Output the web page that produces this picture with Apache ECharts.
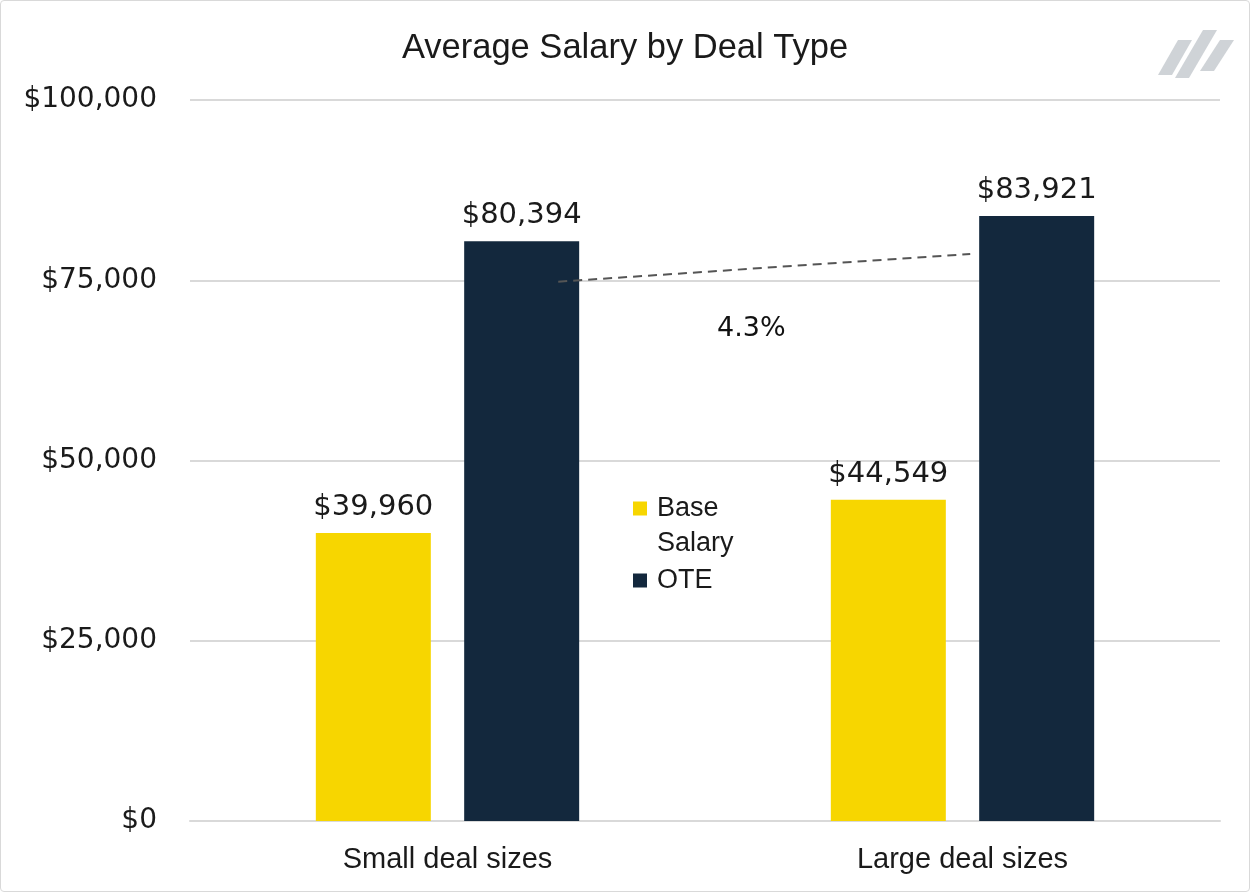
<!DOCTYPE html>
<html>
<head>
    <meta charset="utf-8">
    <title>Average Salary by Deal Type</title>
    <style>
        html, body { margin: 0; padding: 0; background: #fff; }
        #main { width: 1250px; height: 892px; position: relative; }
        .frame {
            position: absolute; left: 0; top: 0; width: 1250px; height: 892px;
            box-sizing: border-box; border: 1px solid #d9d9d9; border-radius: 4px;
            pointer-events: none;
        }
    </style>
</head>
<body>
    <div id="main"></div>
    <div class="frame"></div>
    <script src="https://cdn.jsdelivr.net/npm/echarts@6/dist/echarts.min.js"></script>
    <script>
        // data
        var categories = ['Small deal sizes', 'Large deal sizes'];
        var baseSalary = [39960, 44549];
        var ote = [80394, 83921];
        var yTicks = [0, 25000, 50000, 75000, 100000];
        // growth annotation (dashed trend line + label)
        var trendX = [0.715, 1.515];
        var trendY = [74800, 78640];
        var growthLabel = ['4.3%'];
        var growthPos = [1.09, 68200];

        var numFont = 'DejaVu Sans';
        var txtFont = 'Liberation Sans';

        function money(v) {
            return '$' + v.toLocaleString('en-US');
        }

        var chart = echarts.init(document.getElementById('main'), null, { renderer: 'canvas' });

        var option = {
            backgroundColor: '#fff',
            animation: false,
            title: {
                text: 'Average Salary by Deal Type',
                left: 'center',
                top: 26,
                textStyle: { fontFamily: txtFont, fontSize: 34.5, fontWeight: 'normal', color: '#1a1a1a' }
            },
            grid: { left: 190, right: 30, top: 100, bottom: 71 },
            legend: {
                orient: 'vertical',
                left: 628,
                top: 455,
                icon: 'rect',
                itemWidth: 14,
                itemHeight: 14,
                itemGap: 10,
                selectedMode: false,
                // blank first line keeps the square level with "Base"
                formatter: function (name) {
                    if (name.indexOf(' ') > 0) {
                        return '{t| }\n{t|' + name.replace(' ', '}\n{t|') + '}';
                    }
                    return '{t|' + name + '}';
                },
                textStyle: {
                    fontFamily: txtFont, fontSize: 27, color: '#1a1a1a',
                    rich: { t: { fontFamily: txtFont, fontSize: 27, color: '#1a1a1a', lineHeight: 35, padding: [0, 0, 0, 5] } }
                },
                data: ['Base Salary', 'OTE']
            },
            xAxis: [
                {
                    type: 'category',
                    data: categories,
                    axisLine: { lineStyle: { color: '#d9d9d9', width: 2 } },
                    axisTick: { show: false },
                    axisLabel: { fontFamily: txtFont, fontSize: 29, color: '#1a1a1a', margin: 24 }
                },
                { type: 'value', min: 0, max: 2, show: false }
            ],
            yAxis: {
                type: 'value',
                min: yTicks[0],
                max: yTicks[yTicks.length - 1],
                interval: yTicks[1] - yTicks[0],
                axisLine: { show: false },
                axisTick: { show: false },
                splitLine: { lineStyle: { color: '#d9d9d9', width: 2 } },
                axisLabel: {
                    fontFamily: numFont, fontSize: 28, color: '#1a1a1a', margin: 33,
                    formatter: money
                }
            },
            series: [
                {
                    name: 'Base Salary',
                    type: 'bar',
                    data: baseSalary,
                    barWidth: 115,
                    barGap: '29%',
                    itemStyle: { color: '#f7d600' },
                    label: {
                        show: true, position: 'top', distance: 11,
                        fontFamily: numFont, fontSize: 29, color: '#1a1a1a',
                        formatter: function (p) { return money(p.value); }
                    }
                },
                {
                    name: 'OTE',
                    type: 'bar',
                    data: ote,
                    barWidth: 115,
                    itemStyle: { color: '#13283d' },
                    label: {
                        show: true, position: 'top', distance: 11,
                        fontFamily: numFont, fontSize: 29, color: '#1a1a1a',
                        formatter: function (p) { return money(p.value); }
                    }
                },
                {
                    name: 'trend',
                    type: 'line',
                    xAxisIndex: 1,
                    data: [[trendX[0], trendY[0]], [trendX[1], trendY[1]]],
                    symbol: 'none',
                    z: 5,
                    lineStyle: { color: '#555', width: 2, type: [9, 6] },
                    tooltip: { show: false }
                },
                {
                    name: 'growth',
                    type: 'scatter',
                    xAxisIndex: 1,
                    data: [growthPos],
                    symbolSize: 1,
                    itemStyle: { color: '#fff', opacity: 0 },
                    label: {
                        show: true, position: 'inside',
                        fontFamily: numFont, fontSize: 27, color: '#111',
                        textBorderWidth: 0, opacity: 1,
                        formatter: function () { return growthLabel[0]; }
                    }
                }
            ],
            graphic: [
                {
                    type: 'group',
                    right: 16,
                    top: 30,
                    children: [
                        { type: 'polygon', shape: { points: [[20, 12], [34, 12], [14, 47], [0, 47]] }, style: { fill: '#cfd3d7' } },
                        { type: 'polygon', shape: { points: [[45, 2], [59, 2], [31, 50], [17, 50]] }, style: { fill: '#cfd3d7' } },
                        { type: 'polygon', shape: { points: [[62, 12], [76, 12], [56, 43], [42, 43]] }, style: { fill: '#cfd3d7' } }
                    ]
                }
            ]
        };

        chart.setOption(option);

        window.onresize = function () {
            chart.resize();
        };
    </script>
</body>
</html>
